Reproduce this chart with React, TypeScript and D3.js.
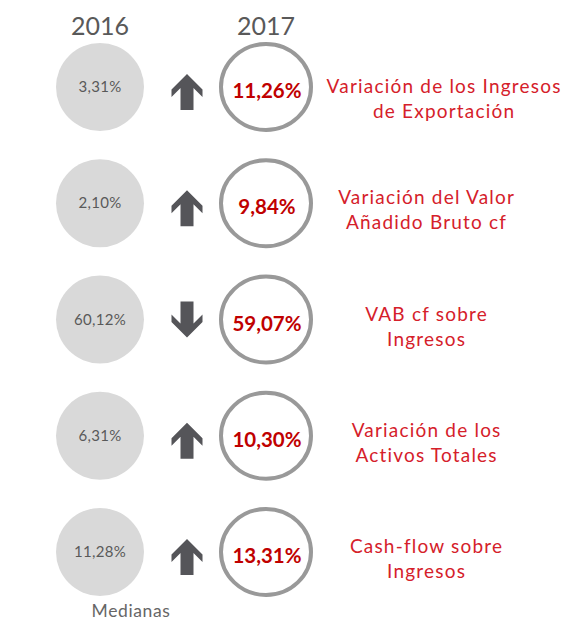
import React, { useLayoutEffect, useRef, useState } from "react";
import * as d3 from "d3";

const years = ["2016", "2017"];
const labels: string[][] = [
  ["Variación de los Ingresos", "de Exportación"],
  ["Variación del Valor", "Añadido Bruto cf"],
  ["VAB cf sobre", "Ingresos"],
  ["Variación de los", "Activos Totales"],
  ["Cash-flow sobre", "Ingresos"],
];
const values2016 = [3.31, 2.1, 60.12, 6.31, 11.28];
const values2017 = [11.26, 9.84, 59.07, 10.3, 13.31];
const footnote = "Medianas";

const W = 567;
const H = 621;
const FONT = "Lato, 'Open Sans', sans-serif";
const LABEL_SIZE = 19;
const LABEL_LS = 1.2;

const fmt = (v: number) => d3.format(".2f")(v).replace(".", ",") + "%";

export default function App() {
  const rows = d3.range(labels.length);
  const y = d3.scalePoint<number>().domain(rows).range([87, 552]);
  const xCol = d3.scaleOrdinal<string, number>().domain(years).range([100, 266]);
  const arrowX = 187;
  const labelMinLeft = 326;
  const labelCenter = 426;

  const labelRefs = useRef<(SVGGElement | null)[]>([]);
  const [labelX, setLabelX] = useState<number[]>(rows.map(() => labelCenter));

  useLayoutEffect(() => {
    const xs = rows.map((i) => {
      const g = labelRefs.current[i];
      if (!g) return labelCenter;
      let maxW = 0;
      g.querySelectorAll("text").forEach((t) => {
        maxW = Math.max(maxW, (t as SVGTextElement).getBBox().width);
      });
      return Math.max(labelCenter, labelMinLeft + maxW / 2);
    });
    setLabelX(xs);
  }, []);

  const arrowPath = (up: boolean) => {
    const p = d3.path();
    const s = up ? 1 : -1;
    const pts: [number, number][] = [
      [0, -18],
      [15.5, -2.5],
      [15.5, 5],
      [6.5, -4],
      [6.5, 18],
      [-6.5, 18],
      [-6.5, -4],
      [-15.5, 5],
      [-15.5, -2.5],
    ];
    pts.forEach(([px, py], i) => {
      if (i === 0) p.moveTo(px, py * s);
      else p.lineTo(px, py * s);
    });
    p.closePath();
    return p.toString();
  };

  return (
    <svg
      width={W}
      height={H}
      style={{ position: "absolute", left: 0, top: 0, background: "#fff" }}
    >
      {years.map((yr) => (
        <text
          key={yr}
          x={xCol(yr)}
          y={35}
          textAnchor="middle"
          fontFamily={FONT}
          fontSize={25}
          fill="#595959"
        >
          {yr}
        </text>
      ))}
      {rows.map((i) => {
        const cy = y(i) as number;
        const up = values2017[i] >= values2016[i];
        const lx = labelX[i];
        const lineOffset = i === 0 ? 5 : 0;
        return (
          <g key={i}>
            <circle cx={xCol(years[0])} cy={cy} r={44} fill="#d9d9d9" />
            <text
              x={xCol(years[0])}
              y={cy + 5}
              textAnchor="middle"
              fontFamily={FONT}
              fontSize={15}
              letterSpacing={0.3}
              fill="#595959"
            >
              {fmt(values2016[i])}
            </text>
            <path
              d={arrowPath(up)}
              transform={`translate(${arrowX},${cy + (up ? 5 : 0)})`}
              fill="#555559"
            />
            <ellipse
              cx={xCol(years[1])}
              cy={cy}
              rx={45}
              ry={43}
              fill="#fff"
              stroke="#999999"
              strokeWidth={4}
            />
            <text
              x={xCol(years[1]) + 1}
              y={cy + 11}
              textAnchor="middle"
              fontFamily={FONT}
              fontSize={20.5}
              fontWeight={700}
              fill="#c00000"
            >
              {fmt(values2017[i])}
            </text>
            <g ref={(el) => { labelRefs.current[i] = el; }}>
              {labels[i].map((line, j) => (
                <text
                  key={j}
                  x={lx + LABEL_LS / 2}
                  y={cy + 1 + lineOffset + j * 25}
                  textAnchor="middle"
                  fontFamily={FONT}
                  fontSize={LABEL_SIZE}
                  letterSpacing={LABEL_LS}
                  fill="#d5202a"
                >
                  {line}
                </text>
              ))}
            </g>
          </g>
        );
      })}
      <text
        x={131}
        y={617}
        textAnchor="middle"
        fontFamily={FONT}
        fontSize={17.5}
        letterSpacing={0.6}
        fill="#666666"
      >
        {footnote}
      </text>
    </svg>
  );
}
